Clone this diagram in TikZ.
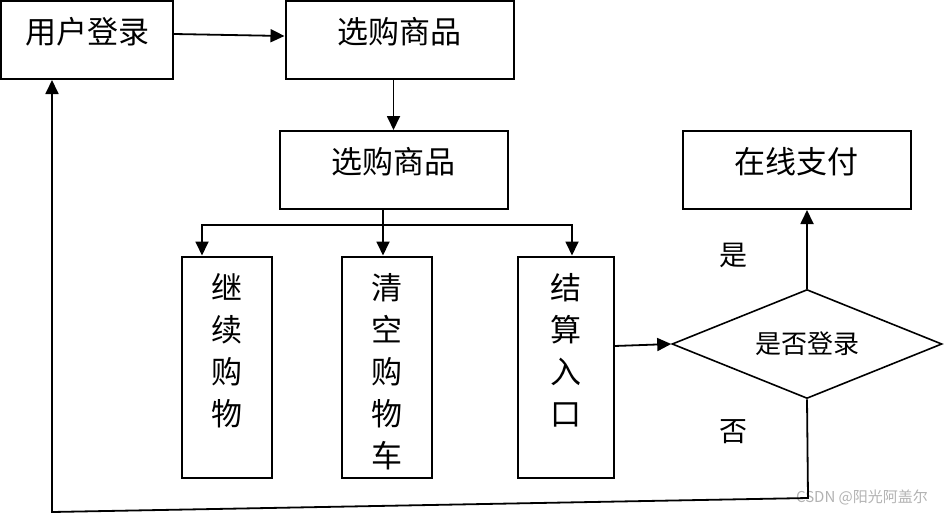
\documentclass[tikz,border=0pt]{standalone}
\usepackage{fontspec}
\newfontfamily\cjk{Noto Sans CJK SC}
\usetikzlibrary{shapes.geometric,arrows.meta}
\begin{document}
\begin{tikzpicture}[x=1pt,y=-1pt,
  box/.style={draw,line width=2pt,inner sep=0pt,minimum width=228pt,minimum height=78pt,text height=24pt,text depth=16.4pt,font=\cjk\fontsize{31}{31}\selectfont},
  vbox/.style={draw,line width=2pt,inner sep=0pt,minimum width=90pt,minimum height=221pt,align=center,text height=150pt,text depth=32.4pt,font=\cjk\fontsize{31}{42}\selectfont},
  vbox5/.style={vbox,text height=208pt,text depth=6.4pt},
  dbox/.style={draw,line width=1.6pt,diamond,shape aspect=2.45,inner sep=0pt,minimum width=270pt,minimum height=109pt,font=\cjk\fontsize{26}{26}\selectfont},
  lbl/.style={font=\cjk\fontsize{28}{28}\selectfont},
  arr/.style={line width=1.8pt,-{Triangle[length=14pt,width=13pt]}},
  ln/.style={line width=1.8pt}]
\useasboundingbox (0,0) rectangle (944,514);
\node[box,minimum width=172pt] (login) at (87,40) {用户登录};
\node[box] (sel1) at (399.5,40) {选购商品};
\node[box] (sel2) at (393.5,170) {选购商品};
\node[box] (pay) at (796.5,170) {在线支付};
\node[vbox] (cont) at (226.5,367) {继\\续\\购\\物};
\node[vbox5] (clear) at (386.5,367) {清\\空\\购\\物\\车};
\node[vbox,minimum width=96pt] (settle) at (565.5,367) {结\\算\\入\\口};
\node[dbox] (dia) at (807,344) {是否登录};
\node[lbl] (yes) at (733,255) {是};
\node[lbl] (no) at (733,432) {否};
\node[text=gray!60,font=\cjk\fontsize{15}{15}\selectfont] (wm) at (862,497) {CSDN @阳光阿盖尔};
% connectors
\draw[arr] ([yshift=6pt]login.east) -- ([yshift=4pt]sel1.west);
\draw[arr] (sel1.south -| sel2.north) -- (sel2.north);
\coordinate (bar) at (383,225);
\draw[ln] (sel2.south -| bar) -- (bar);
\draw[arr] (bar) -| ([xshift=-24.5pt]cont.north);
\draw[arr] (bar) -- ([xshift=-3.5pt]clear.north);
\draw[arr] (bar) -| ([xshift=6.5pt]settle.north);
\draw[arr] ([yshift=21pt]settle.east) -- (dia.west);
\draw[arr] (dia.north) -- (dia.north |- pay.south);
\coordinate (c1) at (808,498);
\coordinate (c2) at (52,512);
\draw[arr] (dia.south) -- (c1) -- (c2) -- (c2 |- login.south);
\end{tikzpicture}
\end{document}
